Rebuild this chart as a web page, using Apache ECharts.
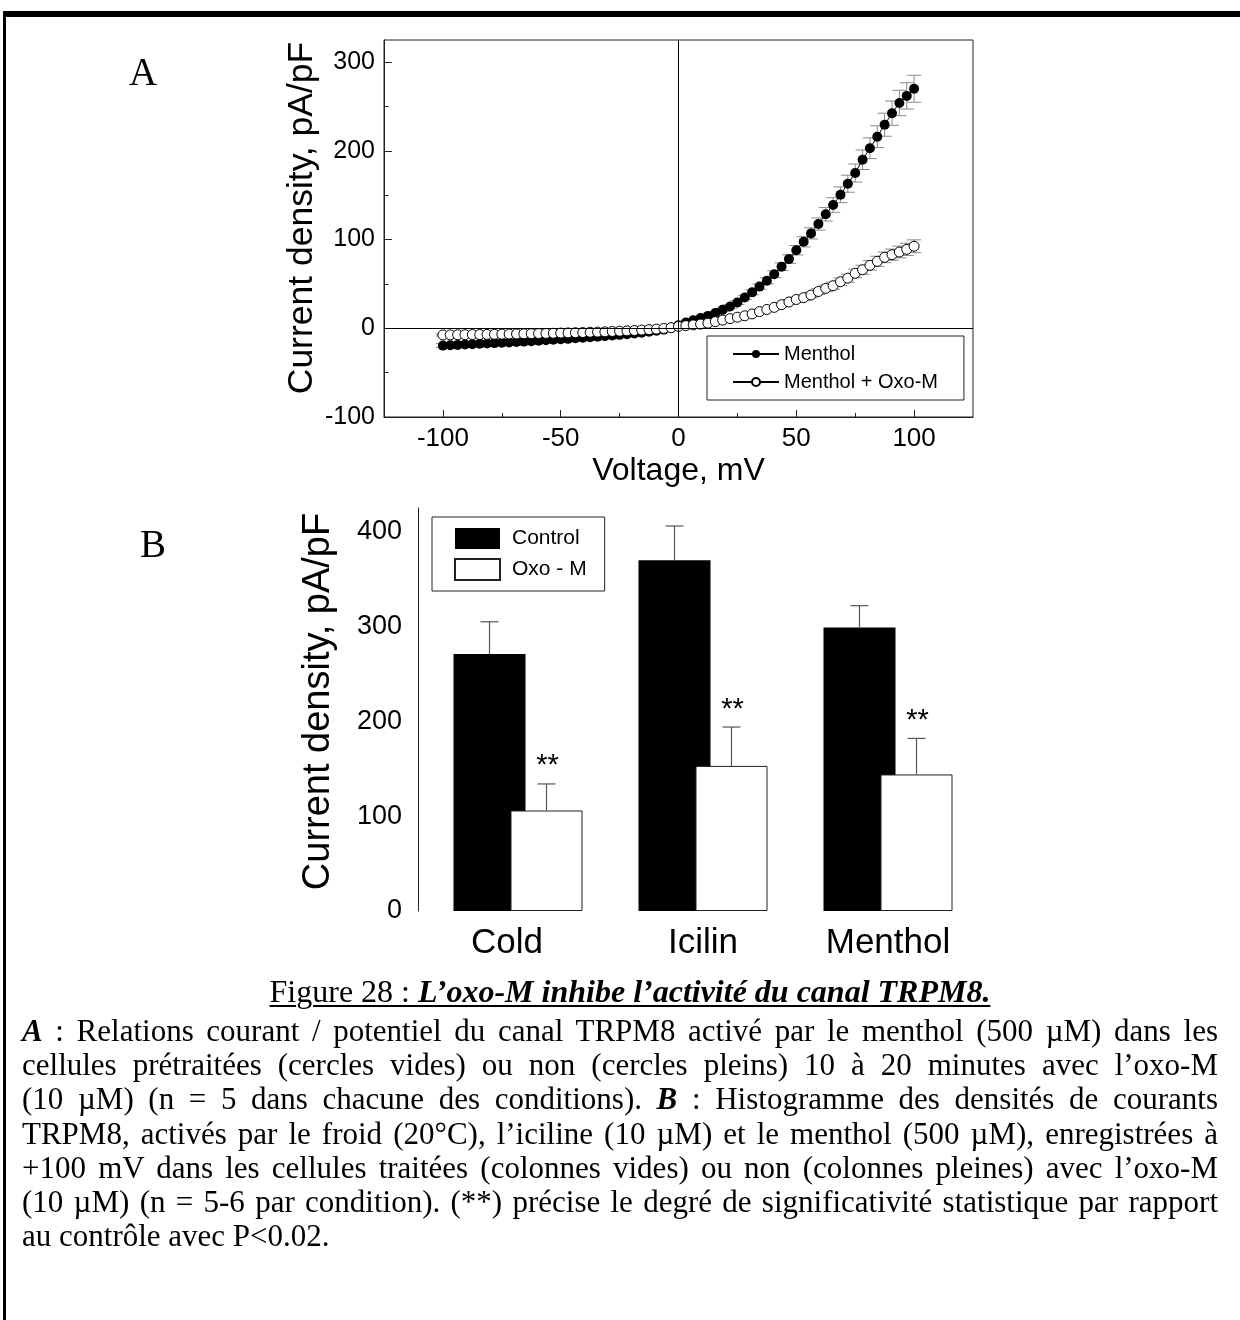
<!DOCTYPE html>
<html>
<head>
<meta charset="utf-8">
<script src="https://cdn.jsdelivr.net/npm/echarts@6/dist/echarts.min.js"></script>
<style>
  html, body { margin: 0; padding: 0; background: #fff; }
  #main { position: absolute; left: 0; top: 0; width: 1240px; height: 1320px; }
  .txt { position: absolute; font-family: "Liberation Serif", "Times New Roman", serif; color: #000; }
  #caption { left: 10px; top: 973px; width: 1240px; text-align: center; font-size: 32px; }
  #caption span { text-decoration: underline; text-decoration-thickness: 2px; text-underline-offset: 3px; }
  #para { left: 22px; top: 1014px; width: 1196px; font-size: 31px; line-height: 34.2px; }
  #para div { text-align: justify; text-align-last: justify; white-space: nowrap; }
  #para div.last { text-align-last: left; }
</style>
</head>
<body>
<div id="main"></div>
<div id="caption" class="txt"></div>
<div id="para" class="txt"></div>
<script>
// panel A : courbe courant / potentiel (mV, pA/pF)
const voltage = [-100, -96.875, -93.75, -90.625, -87.5, -84.375, -81.25, -78.125, -75, -71.875,
  -68.75, -65.625, -62.5, -59.375, -56.25, -53.125, -50, -46.875, -43.75, -40.625,
  -37.5, -34.375, -31.25, -28.125, -25, -21.875, -18.75, -15.625, -12.5, -9.375,
  -6.25, -3.125, 0, 3.125, 6.25, 9.375, 12.5, 15.625, 18.75, 21.875,
  25, 28.125, 31.25, 34.375, 37.5, 40.625, 43.75, 46.875, 50, 53.125,
  56.25, 59.375, 62.5, 65.625, 68.75, 71.875, 75, 78.125, 81.25, 84.375,
  87.5, 90.625, 93.75, 96.875, 100]
const menthol = [-19.5, -19.1, -18.7, -18.3, -17.9, -17.5, -17.1, -16.7, -16.3, -15.9,
  -15.4, -15.0, -14.5, -14.0, -13.5, -13.0, -12.4, -11.9, -11.3, -10.7,
  -10.1, -9.5, -8.8, -8.1, -7.4, -6.6, -5.8, -4.9, -3.9, -2.8,
  -1.5, 0.5, 3.5, 6.5, 9, 11.5, 14, 17.2, 20.8, 24.5,
  29, 34.8, 40.5, 47, 53.5, 61, 69.5, 78, 88, 97.5,
  107, 117.5, 128.5, 139, 150.5, 163, 175, 190, 203, 216,
  229.5, 242.5, 254, 262, 270]
const mentholSem = [2.2, 2.2, 2.1, 2.1, 2.0, 2.0, 2.0, 1.9, 1.9, 1.9,
  1.8, 1.8, 1.8, 1.7, 1.7, 1.7, 1.6, 1.6, 1.5, 1.5,
  1.5, 1.4, 1.4, 1.3, 1.3, 1.2, 1.2, 1.1, 1.0, 0.9,
  0.8, 0.8, 0.8, 0.9, 1.0, 1.2, 1.3, 1.5, 1.7, 1.9,
  2.1, 2.4, 2.7, 3.0, 3.4, 3.8, 4.3, 4.8, 5.3, 5.8,
  6.3, 6.9, 7.6, 8.2, 8.9, 9.6, 10.2, 11.0, 11.7, 12.3,
  13.0, 13.7, 14.3, 14.8, 15.2]
const oxoM = [-7.5, -7.4, -7.3, -7.2, -7.1, -7.0, -6.9, -6.8, -6.6, -6.5,
  -6.4, -6.2, -6.1, -5.9, -5.8, -5.6, -5.4, -5.2, -5.0, -4.8,
  -4.5, -4.3, -4.0, -3.6, -3.3, -2.9, -2.5, -2.0, -1.5, -0.9,
  -0.2, 0.7, 2.1, 3.0, 3.8, 4.7, 5.8, 7.5, 9.2, 10.9,
  12.5, 14.1, 16.2, 18.8, 21.2, 23.6, 26.6, 29.6, 32.5, 34.5,
  37.5, 41.5, 45, 48, 52.5, 56.5, 62, 66, 71, 75.5,
  80, 83, 86, 89, 92.5]
const oxoMSem = [1.2, 1.2, 1.2, 1.1, 1.1, 1.1, 1.1, 1.0, 1.0, 1.0,
  1.0, 1.0, 0.9, 0.9, 0.9, 0.9, 0.9, 0.8, 0.8, 0.8,
  0.8, 0.7, 0.7, 0.7, 0.7, 0.6, 0.6, 0.6, 0.5, 0.5,
  0.5, 0.5, 0.5, 0.6, 0.7, 0.7, 0.8, 0.9, 1.0, 1.1,
  1.2, 1.4, 1.5, 1.7, 1.9, 2.1, 2.3, 2.5, 2.7, 2.9,
  3.1, 3.4, 3.7, 4.0, 4.2, 4.5, 4.8, 5.1, 5.4, 5.7,
  6.0, 6.3, 6.6, 6.9, 7.2]
const ivTicksX = [-100, -50, 0, 50, 100]
const ivMinorX = [-75, -25, 25, 75]
const ivTicksY = [-100, 0, 100, 200, 300]
const ivMinorY = [-50, 50, 150, 250]

// panel B : histogramme a +100 mV
const conditions = ['Cold', 'Icilin', 'Menthol']
const control = [271, 370, 299]
const controlSem = [34, 36, 23]
const oxo = [106, 153, 144]
const oxoSem = [28, 41, 38]
const stars = ['**', '**', '**']
const barTicks = [0, 100, 200, 300, 400]
const barMinor = [50, 150, 250, 350]

const captionLabel = 'Figure 28 : '
const captionTitle = 'L’oxo-M inhibe l’activité du canal TRPM8.'
const paraLines = [
  '<b><i>A</i></b> : Relations courant / potentiel du canal TRPM8 activé par le menthol (500 µM) dans les',
  'cellules prétraitées (cercles vides) ou non (cercles pleins) 10 à 20 minutes avec l’oxo-M',
  '(10 µM) (n = 5 dans chacune des conditions). <b><i>B</i></b> : Histogramme des densités de courants',
  'TRPM8, activés par le froid (20°C), l’iciline (10 µM) et le menthol (500 µM), enregistrées à',
  '+100 mV dans les cellules traitées (colonnes vides) ou non (colonnes pleines) avec l’oxo-M',
  '(10 µM) (n = 5-6 par condition). (**) précise le degré de significativité statistique par rapport',
  'au contrôle avec P&lt;0.02.'
]

const SANS = '"Liberation Sans", Arial, sans-serif'
const BAR_W = 72
const BAR_GAP = -15

document.getElementById('caption').innerHTML =
  '<span>' + captionLabel + '<b><i>' + captionTitle + '</i></b></span>'
document.getElementById('para').innerHTML = paraLines
  .map((l, i) => '<div' + (i === paraLines.length - 1 ? ' class="last"' : '') + '>' + l + '</div>')
  .join('')

const mentholData = voltage.map((v, i) => [v, menthol[i]])
const oxoMData = voltage.map((v, i) => [v, oxoM[i]])
const mentholErr = voltage.map((v, i) => [v, menthol[i], mentholSem[i]])
const oxoMErr = voltage.map((v, i) => [v, oxoM[i], oxoMSem[i]])

function ivError(params, api) {
  const x = api.value(0), y = api.value(1), e = api.value(2)
  const top = api.coord([x, y + e])
  const bot = api.coord([x, y - e])
  const hw = 7
  const st = { stroke: '#8a8a8a', lineWidth: 1 }
  return {
    type: 'group',
    children: [
      { type: 'line', shape: { x1: top[0], y1: top[1], x2: bot[0], y2: bot[1] }, style: st },
      { type: 'line', shape: { x1: top[0] - hw, y1: top[1], x2: top[0] + hw, y2: top[1] }, style: st },
      { type: 'line', shape: { x1: bot[0] - hw, y1: bot[1], x2: bot[0] + hw, y2: bot[1] }, style: st }
    ]
  }
}

function barError(shift, withStars) {
  return function (params, api) {
    const c = api.value(0), y = api.value(1), e = api.value(2)
    const base = api.coord([c, y])
    const top = api.coord([c, y + e])
    const x = base[0] + shift
    const st = { stroke: '#555', lineWidth: 1.2 }
    const kids = [
      { type: 'line', shape: { x1: x, y1: base[1], x2: x, y2: top[1] }, style: st },
      { type: 'line', shape: { x1: x - 9, y1: top[1], x2: x + 9, y2: top[1] }, style: st }
    ]
    if (withStars) {
      kids.push({
        type: 'text',
        style: {
          x: x + 1, y: top[1] - 3, text: stars[params.dataIndex],
          font: '29px ' + SANS, fill: '#000', align: 'center', verticalAlign: 'bottom'
        }
      })
    }
    return { type: 'group', children: kids }
  }
}

const half = (BAR_W + BAR_GAP) / 2

const chart = echarts.init(document.getElementById('main'), null, { renderer: 'canvas' })
chart.setOption({
  animation: false,
  backgroundColor: '#fff',
  textStyle: { fontFamily: SANS, color: '#000' },
  graphic: [
    { type: 'rect', shape: { x: 3, y: 11, width: 1237, height: 6 }, style: { fill: '#000' } },
    { type: 'rect', shape: { x: 3, y: 11, width: 3, height: 1309 }, style: { fill: '#000' } },
    { type: 'text', x: 143, y: 75, style: { text: 'A', font: '39px "Liberation Serif", serif', fill: '#000', align: 'center', verticalAlign: 'middle' } },
    { type: 'text', x: 153, y: 547, style: { text: 'B', font: '39px "Liberation Serif", serif', fill: '#000', align: 'center', verticalAlign: 'middle' } }
  ],
  grid: [
    { left: 384, top: 40, width: 589, height: 377, show: true, borderColor: '#222', borderWidth: 1 },
    { left: 425.5, top: 508, width: 555, height: 403 }
  ],
  legend: [
    {
      data: ['Menthol', 'Menthol + Oxo-M'],
      orient: 'vertical', left: 707, top: 336,
      padding: [7, 26, 7, 25], itemGap: 6, itemWidth: 46, itemHeight: 10,
      borderColor: '#222', borderWidth: 1, borderRadius: 0,
      textStyle: { fontSize: 20, lineHeight: 22, color: '#000', fontFamily: SANS }
    },
    {
      data: ['Control', 'Oxo - M'],
      orient: 'vertical', left: 432, top: 517, icon: 'rect',
      padding: [11, 18, 10, 22], itemGap: 9, itemWidth: 45, itemHeight: 21,
      borderColor: '#222', borderWidth: 1, borderRadius: 0,
      textStyle: { fontSize: 21, lineHeight: 21, color: '#000', fontFamily: SANS, padding: [0, 0, 0, 7] }
    }
  ],
  xAxis: [
    {
      gridIndex: 0, type: 'value', min: -125, max: 125, position: 'bottom',
      axisLine: { onZero: false, lineStyle: { color: '#222' } },
      axisTick: { inside: true, length: 7, customValues: ivTicksX, lineStyle: { color: '#222' } },
      axisLabel: { customValues: ivTicksX, fontSize: 26, margin: 9, color: '#000' },
      splitLine: { show: false },
      name: 'Voltage, mV', nameLocation: 'middle', nameGap: 38,
      nameTextStyle: { fontSize: 32, color: '#000' }
    },
    {
      gridIndex: 0, type: 'value', min: -125, max: 125, position: 'bottom',
      axisLine: { show: false, onZero: false },
      axisTick: { inside: true, length: 4, customValues: ivMinorX, lineStyle: { color: '#222' } },
      axisLabel: { show: false }, splitLine: { show: false }
    },
    {
      gridIndex: 1, type: 'category', position: 'bottom',
      data: conditions.map((c, i) => i === 0 ? { value: c, textStyle: { padding: [0, 22, 0, 0] } } : c),
      axisLine: { show: false }, axisTick: { show: false },
      axisLabel: { fontSize: 35, margin: 15, color: '#000' }
    }
  ],
  yAxis: [
    {
      gridIndex: 0, type: 'value', min: -100, max: 325, position: 'left',
      axisLine: { show: true, onZero: false, lineStyle: { color: '#222' } },
      axisTick: { inside: true, length: 8, customValues: ivTicksY, lineStyle: { color: '#222' } },
      axisLabel: { customValues: ivTicksY, fontSize: 25, margin: 9, color: '#000' },
      splitLine: { show: false },
      name: 'Current density, pA/pF', nameLocation: 'middle', nameGap: 64,
      nameTextStyle: { fontSize: 35.5, color: '#000', padding: [0, 0, 0, 21] }
    },
    {
      gridIndex: 0, type: 'value', min: -100, max: 325, position: 'left',
      axisLine: { show: false, onZero: false },
      axisTick: { inside: true, length: 4.5, customValues: ivMinorY, lineStyle: { color: '#222' } },
      axisLabel: { show: false }, splitLine: { show: false }
    },
    {
      gridIndex: 1, type: 'value', min: 0, max: 425, offset: 7.5, position: 'left',
      axisLine: { show: true, onZero: false, lineStyle: { color: '#222' } },
      axisTick: { length: 9, customValues: barTicks, lineStyle: { color: '#222' } },
      axisLabel: { customValues: barTicks, fontSize: 27, margin: 16, color: '#000' },
      splitLine: { show: false },
      name: 'Current density, pA/pF', nameLocation: 'middle', nameGap: 80,
      nameTextStyle: { fontSize: 38, color: '#000', padding: [0, 0, 0, 16] }
    },
    {
      gridIndex: 1, type: 'value', min: 0, max: 425, offset: 7.5, position: 'left',
      axisLine: { show: false, onZero: false },
      axisTick: { length: 5, customValues: barMinor, lineStyle: { color: '#222' } },
      axisLabel: { show: false }, splitLine: { show: false }
    }
  ],
  series: [
    {
      name: 'mentholErr', type: 'custom', xAxisIndex: 0, yAxisIndex: 0, z: 2,
      renderItem: ivError, data: mentholErr, silent: true
    },
    {
      name: 'oxoErr', type: 'custom', xAxisIndex: 0, yAxisIndex: 0, z: 2,
      renderItem: ivError, data: oxoMErr, silent: true
    },
    {
      name: 'Menthol', type: 'line', xAxisIndex: 0, yAxisIndex: 0, z: 3,
      data: mentholData, symbol: 'circle', symbolSize: 10,
      itemStyle: { color: '#000' }, lineStyle: { color: '#000', width: 1 },
      markLine: {
        silent: true, symbol: 'none', label: { show: false },
        lineStyle: { color: '#000', type: 'solid', width: 1 },
        data: [{ xAxis: 0 }, { yAxis: 0 }]
      }
    },
    {
      name: 'Menthol + Oxo-M', type: 'line', xAxisIndex: 0, yAxisIndex: 0, z: 4,
      data: oxoMData, symbol: 'circle', symbolSize: 10,
      itemStyle: { color: '#fff', borderColor: '#000', borderWidth: 1 },
      lineStyle: { color: '#000', width: 1 }
    },
    {
      name: 'Control', type: 'bar', xAxisIndex: 2, yAxisIndex: 2,
      data: control, barWidth: BAR_W, barGap: (BAR_GAP / BAR_W * 100) + '%',
      itemStyle: { color: '#000' }
    },
    {
      name: 'Oxo - M', type: 'bar', xAxisIndex: 2, yAxisIndex: 2,
      data: oxo, barWidth: BAR_W, barGap: (BAR_GAP / BAR_W * 100) + '%',
      itemStyle: { color: '#fff', borderColor: '#222', borderWidth: 1 }
    },
    {
      name: 'controlErr', type: 'custom', xAxisIndex: 2, yAxisIndex: 2, z: 3, silent: true,
      renderItem: barError(-half, false),
      data: control.map((v, i) => [i, v, controlSem[i]])
    },
    {
      name: 'oxoBarErr', type: 'custom', xAxisIndex: 2, yAxisIndex: 2, z: 3, silent: true,
      renderItem: barError(half, true),
      data: oxo.map((v, i) => [i, v, oxoSem[i]])
    }
  ]
})
</script>
</body>
</html>
